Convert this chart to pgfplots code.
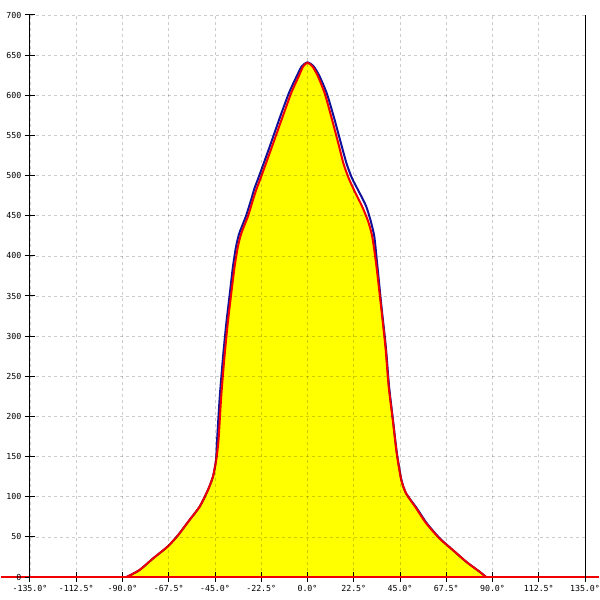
\documentclass[border=0pt]{standalone}
\usepackage{fontspec}
\newfontfamily\monof{DejaVu Sans Mono}
\usepackage{pgfplots}
\usepackage{pgfplotstable}
\pgfplotsset{compat=1.18}
\definecolor{bluec}{HTML}{10109A}
\definecolor{redc}{HTML}{F00000}
\definecolor{yel}{HTML}{FFFF00}
\pgfplotstableread{
x y
-88 0
-81.7 8.7
-75.2 23
-68 38
-63 52
-57.4 71
-52.5 87.5
-48.5 108
-46 125
-44.4 146
-43.3 170
-42 224
-40.4 274
-38.8 316
-37.1 353
-35.5 386
-33.9 411
-32.2 428
-29 449
-26.5 470
-24.7 484
-22.5 499
-17.7 533
-12 574
-7.9 603
-4.2 624
-2.1 636
0 640.5
2.4 636
5 624
8.3 603
11.5 574
15 540
17.5 515
20 497
23 480
26.5 462
29.5 443
31.5 424
33.4 390
35.8 336.6
37.9 287
39.5 237
41.5 195.5
43.4 154
45.6 121
48 104
52.9 85.5
57.7 67
64.2 48
70.7 33.6
77.2 19
83.7 6.6
86.9 0
}\redtab
\pgfplotstableread{
x y
-149 0
-88 0
}\leftbase
\pgfplotstableread{
x y
86.9 0
142 0
}\rightbase
\pgfplotstableread{
x y
-88 0
-81.7 8.7
-75.2 23
-68 38
-63 52
-57.4 71
-52.5 87.5
-48.5 108
-46 125
-44.5 146
-44 170
-42.7 224
-41.1 274
-39.5 316
-37.8 353
-36.3 386
-34.8 411
-33.2 428
-30 449
-27.4 470
-25.8 484
-23.6 499
-18.8 533
-13.2 574
-9 603
-5.2 624
-2.8 636
0 641
3 636
5.8 624
9.3 603
12.7 574
16.3 540
19 515
21.6 497
25 480
28.5 462
30.8 443
32.5 424
33.9 390
36 336.6
38.1 287
39.7 237
41.6 195.5
43.5 154
45.7 121
48 104
53.2 85.5
58 67
64.4 48
70.7 33.6
77.2 19
83.7 6.6
86.9 0
}\bluetab
\begin{document}
\begin{tikzpicture}
\begin{axis}[
  name=ax,
  scale only axis, width=555pt, height=562pt,
  xmin=-135, xmax=135, ymin=0, ymax=700,
  axis x line=bottom, axis y line=box,
  x axis line style={-, draw=redc, line width=2pt},
  y axis line style={-, draw=black, line width=1pt},
  xtick={-135,-112.5,-90,-67.5,-45,-22.5,0,22.5,45,67.5,90,112.5,135},
  xticklabels={-135.0°,-112.5°,-90.0°,-67.5°,-45.0°,-22.5°,0.0°,22.5°,45.0°,67.5°,90.0°,112.5°,135.0°},
  ytick={0,50,...,700},
  ytick pos=left,
  tick align=center,
  major tick length=10pt,
  every tick/.style={black, line width=1pt},
  grid=major,
  major grid style={black, opacity=0.2, dash pattern=on 3pt off 3pt, line width=0.7pt},
  ticklabel style={font=\monof\fontsize{8.3}{10}\selectfont},
  /pgf/number format/assume math mode=true,
  clip=false,
  axis on top,
]
\addplot[draw=none, fill=yel, smooth, tension=0.4] table[x=x,y=y]{\redtab} \closedcycle;
\addplot[bluec, line width=2pt, smooth, tension=0.4] table[x=x,y=y]{\bluetab};
\addplot[redc, line width=2pt, smooth, tension=0.4] table[x=x,y=y]{\redtab};
\addplot[redc, line width=2pt] table[x=x,y=y]{\leftbase};
\addplot[redc, line width=2pt] table[x=x,y=y]{\rightbase};
\end{axis}
\pgfresetboundingbox
\path ([shift={(-30pt,-23pt)}]ax.south west) rectangle ([shift={(15pt,15pt)}]ax.north east);
\end{tikzpicture}
\end{document}
